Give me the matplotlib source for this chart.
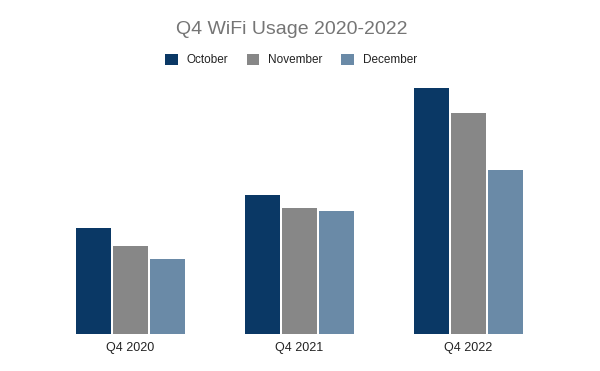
import numpy as np
import matplotlib
matplotlib.use("Agg")
import matplotlib.pyplot as plt
from matplotlib.patches import Patch

plt.rcParams['font.family'] = ['Liberation Sans', 'DejaVu Sans']

quarters = ['Q4 2020', 'Q4 2021', 'Q4 2022']
months = ['October', 'November', 'December']
october = [105.7, 138.7, 245.7]
november = [87.7, 125.7, 220.7]
december = [74.7, 122.7, 163.7]
colors = ['#0a3865', '#878787', '#6a8aa7']

fig = plt.figure(figsize=(6, 3.71), dpi=100)
# axes placed in pixel terms: baseline at y=333.7, groups centred 169 px apart
ax = fig.add_axes([46 / 600, 37.3 / 371, 507 / 600, 270 / 371])

x = np.arange(len(quarters))
width = 35 / 169
step = 37 / 169
series = [october, november, december]
for i, (vals, c) in enumerate(zip(series, colors)):
    ax.bar(x + (i - 1) * step, vals, width=width, color=c, linewidth=0)

ax.set_xlim(-0.5, 2.5)
ax.set_ylim(0, 270)
ax.set_xticks(x)
ax.set_xticklabels(quarters, fontsize=9, color='#222222')
ax.tick_params(axis='x', length=0, pad=6)
ax.set_yticks([])
for s in ax.spines.values():
    s.set_visible(False)

fig.text(292 / 600, 1 - 29 / 371, 'Q4 WiFi Usage 2020-2022', ha='center', va='center',
         fontsize=14, color='#757575')

handles = [Patch(facecolor=c, edgecolor='none', label=m) for m, c in zip(months, colors)]
leg = fig.legend(handles=handles, loc='center', bbox_to_anchor=(291 / 600, 1 - 60 / 371),
                 ncol=3, frameon=False, fontsize=8.5, handlelength=1.05, handleheight=1.05,
                 handletextpad=0.75, columnspacing=1.6)
for t in leg.get_texts():
    t.set_color('#222222')

fig.savefig('out.png', dpi=100)
